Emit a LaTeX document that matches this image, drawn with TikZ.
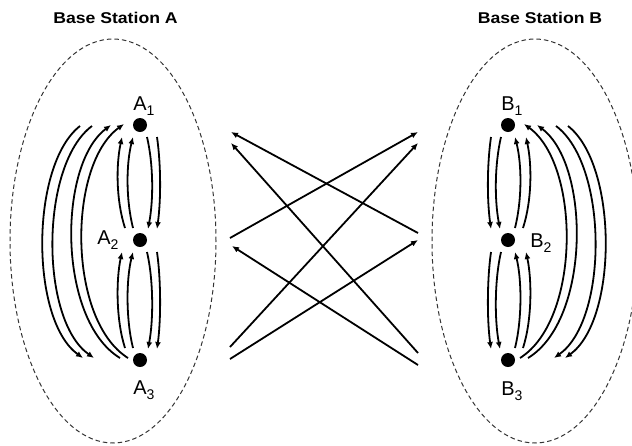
\documentclass[tikz,border=0pt]{standalone}
\usepackage{fontspec}
\usepackage{graphicx}
\setmainfont{Liberation Sans}
\usetikzlibrary{arrows.meta,calc}
\newcommand\lsub[1]{\rlap{\raisebox{-5.5pt}{\fontsize{14}{14}\selectfont #1}}}
% small arcs between upper node #1 and lower node #2; #3 = 1 (A side) or -1 (B side)
\newcommand\smallarcs[3]{%
  \draw[arr] ($(#2)+({-15*(#3)},-12)$) .. controls ($(#2)+({-24*(#3)},-40)$) and ($(#1)+({-24*(#3)},40)$) .. ($(#1)+({-18*(#3)},12)$);
  \draw[arr] ($(#2)+({-7*(#3)},-12)$) .. controls ($(#2)+({-14*(#3)},-40)$) and ($(#1)+({-14*(#3)},40)$) .. ($(#1)+({-7*(#3)},12)$);
  \draw[arr] ($(#1)+({7*(#3)},12)$) .. controls ($(#1)+({13.5*(#3)},40)$) and ($(#2)+({13.5*(#3)},-40)$) .. ($(#2)+({8*(#3)},-11)$);
  \draw[arr] ($(#1)+({17*(#3)},12)$) .. controls ($(#1)+({21*(#3)},40)$) and ($(#2)+({21*(#3)},-40)$) .. ($(#2)+({17*(#3)},-11)$);
}
% big arcs between top node #1 and bottom node #2
\newcommand\bigarcs[3]{%
  \draw[arr] ($(#1)+({-60*(#3)},1)$) .. controls ($(#1)+({-110*(#3)},40)$) and ($(#2)+({-110*(#3)},-40)$) .. ($(#2)+({-57*(#3)},-2)$);
  \draw[arr] ($(#1)+({-48*(#3)},1)$) .. controls ($(#1)+({-100.3*(#3)},40)$) and ($(#2)+({-100.3*(#3)},-40)$) .. ($(#2)+({-46*(#3)},-2)$);
  \draw[arr] ($(#2)+({-20*(#3)},-2)$) .. controls ($(#2)+({-82.5*(#3)},-40)$) and ($(#1)+({-82.5*(#3)},40)$) .. ($(#1)+({-29*(#3)},0)$);
  \draw[arr] ($(#2)+({-12*(#3)},-2)$) .. controls ($(#2)+({-72.7*(#3)},-40)$) and ($(#1)+({-72.7*(#3)},40)$) .. ($(#1)+({-16*(#3)},-1)$);
}
\begin{document}
\begin{tikzpicture}[x=1pt,y=-1pt,
  dot/.style={circle,fill=black,inner sep=0pt,minimum size=14pt},
  lab/.style={inner sep=0pt,anchor=base,font=\fontsize{20}{22}\selectfont},
  title/.style={inner sep=0pt,anchor=base,font=\fontsize{15.6}{18}\selectfont\bfseries},
  arr/.style={line width=1.8pt,-{Latex[length=7pt,width=6pt]}},
  region/.style={draw=black!80,dash pattern=on 4.5pt off 3pt,line width=1pt},
]
\useasboundingbox (0,0) rectangle (632,445);

% station regions
\draw[region] (113,241) ellipse [x radius=103pt, y radius=202pt];
\draw[region] (535,241) ellipse [x radius=103pt, y radius=202pt];

% titles
\node[title] (tA) at (115.5,23) {\scalebox{1.13}[1]{Base Station A}};
\node[title] (tB) at (540,23) {\scalebox{1.13}[1]{Base Station B}};

% antennas
\node[dot] (A1) at (140,125) {};
\node[dot] (A2) at (140,240) {};
\node[dot] (A3) at (140,360) {};
\node[dot] (B1) at (508,125) {};
\node[dot] (B2) at (508,240) {};
\node[dot] (B3) at (508,360) {};

% labels
\node[lab] (lA1) at (140,110) {A\lsub{1}};
\node[lab] (lA2) at (104,244) {A\lsub{2}};
\node[lab] (lA3) at (140,394) {A\lsub{3}};
\node[lab] (lB1) at (508,110) {B\lsub{1}};
\node[lab] (lB2) at (537,247) {B\lsub{2}};
\node[lab] (lB3) at (508,395) {B\lsub{3}};

% intra-station links
\smallarcs{A1}{A2}{1}
\smallarcs{A2}{A3}{1}
\bigarcs{A1}{A3}{1}
\smallarcs{B1}{B2}{-1}
\smallarcs{B2}{B3}{-1}
\bigarcs{B1}{B3}{-1}

% inter-station links
\coordinate (p1) at (418,233); \coordinate (q1) at (231,132);
\coordinate (p2) at (418,353); \coordinate (q2) at (231,143);
\coordinate (p3) at (230,238); \coordinate (q3) at (418,132);
\coordinate (p4) at (418,365); \coordinate (q4) at (232,246);
\coordinate (p5) at (230,347); \coordinate (q5) at (418,143);
\coordinate (p6) at (230,359); \coordinate (q6) at (418,240);
\draw[arr] (p1) -- (q1);
\draw[arr] (p2) -- (q2);
\draw[arr] (p3) -- (q3);
\draw[arr] (p4) -- (q4);
\draw[arr] (p5) -- (q5);
\draw[arr] (p6) -- (q6);
\end{tikzpicture}
\end{document}
